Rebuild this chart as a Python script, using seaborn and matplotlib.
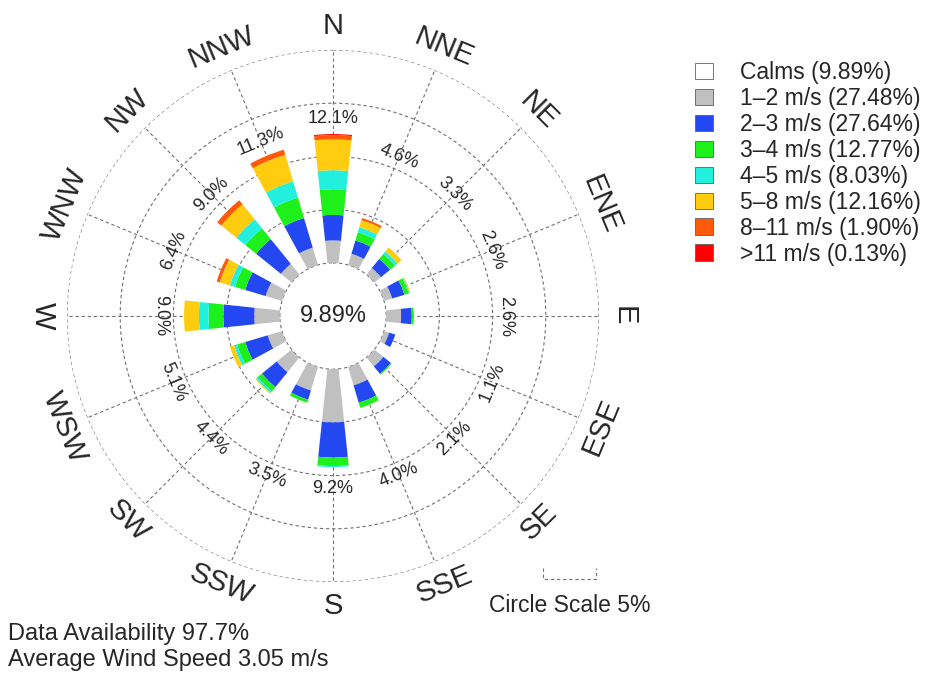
import matplotlib
matplotlib.use('Agg')
import matplotlib.pyplot as plt
from matplotlib.patches import Patch
import numpy as np
import pandas as pd
import seaborn as sns

# wind rose data (percent of all hours)
directions = ['N', 'NNE', 'NE', 'ENE', 'E', 'ESE', 'SE', 'SSE',
              'S', 'SSW', 'SW', 'WSW', 'W', 'WNW', 'NW', 'NNW']
bearings = np.arange(16) * 22.5
calm_pct = 9.89

speed_1_2 = [2.1, 1.1, 0.8, 0.8, 1.4, 0.5, 1.1, 1.8, 5.0, 2.3, 1.8, 1.4, 2.4, 1.6, 1.3, 1.7]
speed_2_3 = [2.4, 1.3, 1.1, 1.2, 1.0, 0.6, 0.9, 1.7, 3.3, 0.9, 1.8, 2.2, 2.9, 2.0, 3.0, 2.9]
speed_3_4 = [2.4, 0.8, 0.6, 0.4, 0.2, 0.0, 0.1, 0.5, 0.8, 0.3, 0.5, 0.8, 1.4, 1.0, 1.3, 2.0]
speed_4_5 = [1.8, 0.5, 0.3, 0.1, 0.0, 0.0, 0.0, 0.0, 0.1, 0.0, 0.2, 0.3, 0.9, 0.5, 1.1, 1.6]
speed_5_8 = [2.9, 0.7, 0.5, 0.1, 0.0, 0.0, 0.0, 0.0, 0.0, 0.0, 0.1, 0.4, 1.4, 1.0, 1.8, 2.6]
speed_8_11 = [0.4, 0.2, 0.0, 0.0, 0.0, 0.0, 0.0, 0.0, 0.0, 0.0, 0.0, 0.0, 0.0, 0.3, 0.5, 0.5]
speed_11 = [0.1, 0.0, 0.0, 0.0, 0.0, 0.0, 0.0, 0.0, 0.0, 0.0, 0.0, 0.0, 0.0, 0.0, 0.0, 0.0]

bins = ['1-2', '2-3', '3-4', '4-5', '5-8', '8-11', '>11']
legend_labels = ['Calms (9.89%)', '1\u20132 m/s (27.48%)', '2\u20133 m/s (27.64%)',
                 '3\u20134 m/s (12.77%)', '4\u20135 m/s (8.03%)', '5\u20138 m/s (12.16%)',
                 '8\u201311 m/s (1.90%)', '>11 m/s (0.13%)']
colors = ['#c0c0c0', '#2347f0', '#1ef01c', '#22f0dc', '#ffcc10', '#ff5a0a', '#ff0000']

availability = 97.7
avg_speed = 3.05

df = pd.DataFrame({'1-2': speed_1_2, '2-3': speed_2_3, '3-4': speed_3_4, '4-5': speed_4_5,
                   '5-8': speed_5_8, '8-11': speed_8_11, '>11': speed_11}, index=directions)
totals = df.sum(axis=1)

sns.set_theme(style='white')
plt.rcParams['font.family'] = ['Liberation Sans', 'DejaVu Sans']
palette = sns.color_palette(colors)

W, H = 927, 677
fig = plt.figure(figsize=(W / 100, H / 100), dpi=100)
cx, cy, R = 333, 316, 266
ax = fig.add_axes([(cx - R) / W, (H - cy - R) / H, 2 * R / W, 2 * R / H], projection='polar')
ax.set_theta_zero_location('N')
ax.set_theta_direction(-1)
ax.set_ylim(0, 25)
ax.set_axis_off()

inner = 5.0  # radius of the calm circle
theta = np.radians(bearings)

# grid: dashed circles and spokes
circ = np.linspace(0, 2 * np.pi, 400)
for r in [5, 10, 15, 20, 25]:
    ax.plot(circ, np.full_like(circ, r), ls=(0, (3, 2.5)), color='#707070', lw=0.8, zorder=1)
for t in theta:
    ax.plot([t, t], [inner, 25], ls=(0, (3, 2.5)), color='#707070', lw=0.8, zorder=1)

# stacked wedges
bottom = np.full(16, inner)
for b, col in zip(bins, palette):
    vals = df[b].values
    ax.bar(theta, vals, width=np.radians(12), bottom=bottom, color=col,
           edgecolor='none', align='center', zorder=2)
    bottom = bottom + vals

def rot_for(b):
    if b <= 90:
        return -b
    if b <= 270:
        return 180 - b
    return 360 - b

# percent labels and direction names
for t, b, name, tot in zip(theta, bearings, directions, totals):
    rl = max(16.2, inner + tot + 1.5)
    ax.text(t, rl, '{:.1f}%'.format(tot), rotation=rot_for(b), rotation_mode='anchor',
            ha='center', va='center', fontsize=13, zorder=3)
    ax.text(t, 27.3, name, rotation=rot_for(b), rotation_mode='anchor',
            ha='center', va='center', fontsize=21, clip_on=False)

ax.text(0, 0, '{:.2f}%'.format(calm_pct), ha='center', va='center', fontsize=17)

# legend
handles = [Patch(facecolor='white', edgecolor='#606060', lw=0.6)]
handles += [Patch(facecolor=c, edgecolor='#606060', lw=0.6) for c in palette]
fig.legend(handles, legend_labels, loc='upper left', bbox_to_anchor=(695 / W, 1 - 61 / H),
           frameon=False, fontsize=16.5, handlelength=0.8, handleheight=0.75,
           labelspacing=0.13, handletextpad=1.15, borderaxespad=0, borderpad=0)

# circle scale bar (5% = 5 radial units)
px5 = 5 / 25 * R
x0, x1, yb = 543, 543 + px5, H - 579
fig.add_artist(plt.Line2D([x0 / W, x0 / W, x1 / W, x1 / W], [(yb + 11) / H, yb / H, yb / H, (yb + 11) / H],
                          ls=(0, (3, 2.5)), color='#707070', lw=0.8))
fig.text(570 / W, 1 - 606 / H, 'Circle Scale 5%', ha='center', va='center', fontsize=16.5)

fig.text(8 / W, 1 - 634 / H, 'Data Availability {:.1f}%'.format(availability), ha='left', va='center', fontsize=17)
fig.text(8 / W, 1 - 660 / H, 'Average Wind Speed {:.2f} m/s'.format(avg_speed), ha='left', va='center', fontsize=17)

fig.savefig('out.png', dpi=100)
